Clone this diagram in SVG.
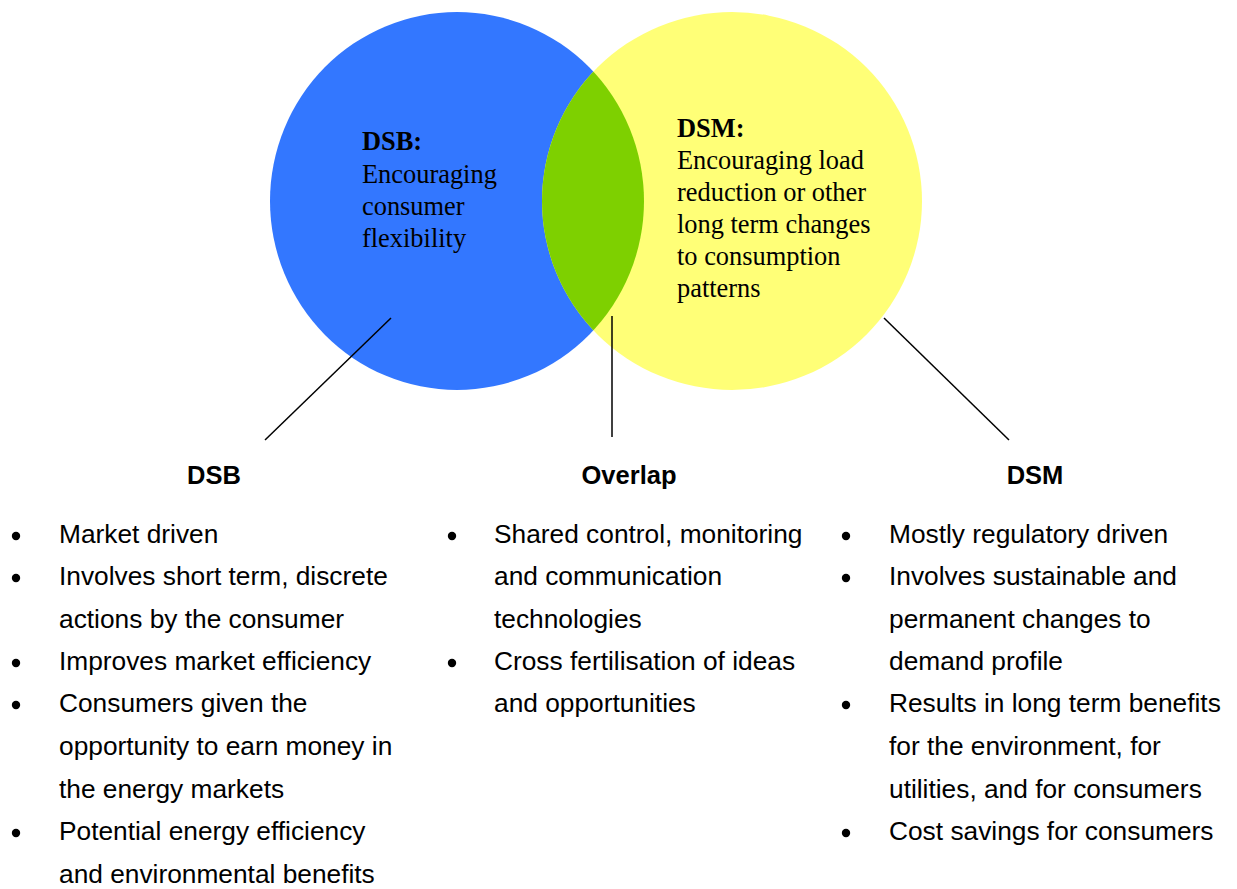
<svg xmlns="http://www.w3.org/2000/svg" width="1237" height="889" viewBox="0 0 1237 889">
<style>
.serif{font-family:"Liberation Serif","Times New Roman",serif;font-size:26.4px;fill:#000}
.b{font-weight:bold}
.sans{font-family:"Liberation Sans",Arial,sans-serif;font-size:26.3px;fill:#000}
.hd{font-family:"Liberation Sans",Arial,sans-serif;font-size:25.5px;font-weight:bold;fill:#000;text-anchor:middle}
.conn{stroke:#000;stroke-width:1.5;fill:none}
.dot{fill:#000}
</style>
<defs>
<clipPath id="blueClip"><ellipse cx="457" cy="201" rx="187" ry="189"/></clipPath>
</defs>
<rect width="1237" height="889" fill="#fff"/>
<g id="dsb-circle">
<ellipse cx="457" cy="201" rx="187" ry="189" fill="#3377FF"/>
</g>
<g id="dsm-circle">
<ellipse cx="732" cy="201" rx="190" ry="189" fill="#FFFF77"/>
</g>
<g id="overlap-lens">
<ellipse cx="732" cy="201" rx="190" ry="189" fill="#7ED000" clip-path="url(#blueClip)"/>
</g>
<g id="dsb-label">
<text class="serif b" x="362" y="150">DSB:</text>
<text class="serif" x="362" y="183">Encouraging</text>
<text class="serif" x="362" y="215">consumer</text>
<text class="serif" x="362" y="247">flexibility</text>
</g>
<g id="dsm-label">
<text class="serif b" x="677" y="137">DSM:</text>
<text class="serif" x="677" y="169">Encouraging load</text>
<text class="serif" x="677" y="201">reduction or other</text>
<text class="serif" x="677" y="233">long term changes</text>
<text class="serif" x="677" y="265">to consumption</text>
<text class="serif" x="677" y="297">patterns</text>
</g>
<g id="connectors">
<line class="conn" x1="391" y1="318" x2="265" y2="440"/>
<line class="conn" x1="612" y1="316" x2="612" y2="437"/>
<line class="conn" x1="884" y1="318" x2="1009" y2="440"/>
</g>
<g id="dsb-list">
<text class="hd" x="214" y="484">DSB</text>
<circle class="dot" cx="16" cy="536" r="4.2"/>
<text class="sans" x="59" y="543">Market driven</text>
<circle class="dot" cx="16" cy="578" r="4.2"/>
<text class="sans" x="59" y="585">Involves short term, discrete</text>
<text class="sans" x="59" y="628">actions by the consumer</text>
<circle class="dot" cx="16" cy="663" r="4.2"/>
<text class="sans" x="59" y="670">Improves market efficiency</text>
<circle class="dot" cx="16" cy="705" r="4.2"/>
<text class="sans" x="59" y="712">Consumers given the</text>
<text class="sans" x="59" y="755">opportunity to earn money in</text>
<text class="sans" x="59" y="798">the energy markets</text>
<circle class="dot" cx="16" cy="833" r="4.2"/>
<text class="sans" x="59" y="840">Potential energy efficiency</text>
<text class="sans" x="59" y="883">and environmental benefits</text>
</g>
<g id="overlap-list">
<text class="hd" x="629" y="484">Overlap</text>
<circle class="dot" cx="452" cy="536" r="4.2"/>
<text class="sans" x="494" y="543">Shared control, monitoring</text>
<text class="sans" x="494" y="585">and communication</text>
<text class="sans" x="494" y="628">technologies</text>
<circle class="dot" cx="452" cy="663" r="4.2"/>
<text class="sans" x="494" y="670">Cross fertilisation of ideas</text>
<text class="sans" x="494" y="712">and opportunities</text>
</g>
<g id="dsm-list">
<text class="hd" x="1035" y="484">DSM</text>
<circle class="dot" cx="846" cy="536" r="4.2"/>
<text class="sans" x="889" y="543">Mostly regulatory driven</text>
<circle class="dot" cx="846" cy="578" r="4.2"/>
<text class="sans" x="889" y="585">Involves sustainable and</text>
<text class="sans" x="889" y="628">permanent changes to</text>
<text class="sans" x="889" y="670">demand profile</text>
<circle class="dot" cx="846" cy="705" r="4.2"/>
<text class="sans" x="889" y="712">Results in long term benefits</text>
<text class="sans" x="889" y="755">for the environment, for</text>
<text class="sans" x="889" y="798">utilities, and for consumers</text>
<circle class="dot" cx="846" cy="833" r="4.2"/>
<text class="sans" x="889" y="840">Cost savings for consumers</text>
</g>
</svg>
